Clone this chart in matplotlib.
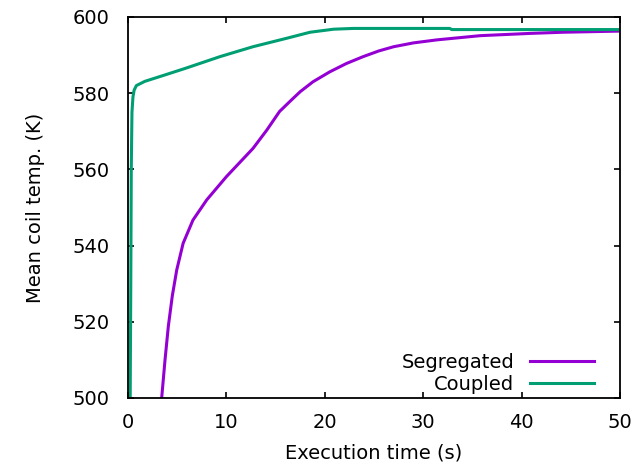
import matplotlib
matplotlib.use("Agg")
import matplotlib.pyplot as plt

seg_t = [3.42, 3.76, 4.1, 4.5, 4.95, 5.6, 6.6, 8.0, 10.0, 12.7, 14.1, 15.4, 16.6,
         17.5, 18.8, 20.5, 22.2, 23.9, 25.5, 27.0, 29.0, 31.4, 35.8, 40.9, 44.2, 50.0]
seg_T = [500, 510, 518.9, 526.8, 533.6, 540.6, 546.7, 552, 558.1, 565.5, 570.3, 575.2, 578.2,
         580.4, 583.0, 585.6, 587.8, 589.6, 591.1, 592.2, 593.2, 594.0, 595.1, 595.7, 596.0, 596.3]

cpl_t = [0.22, 0.28, 0.33, 0.4, 0.5, 0.62, 0.85, 1.7, 3.76, 5.8, 9.35, 12.7, 16.1,
         18.5, 20.9, 22.9, 32.7, 32.9, 50.0]
cpl_T = [500, 530, 560, 575.0, 579.0, 580.8, 582.0, 583.1, 584.8, 586.5, 589.6, 592.2, 594.4,
         596.0, 596.8, 597.0, 597.0, 596.7, 596.7]

x_ticks = [0, 10, 20, 30, 40, 50]
y_ticks = [500, 520, 540, 560, 580, 600]

plt.rcParams['font.family'] = ['DejaVu Sans']
fig = plt.figure(figsize=(6.44, 4.67), dpi=100)
ax = fig.add_axes([0.1988, 0.1478, 0.7639, 0.8158])

ax.plot(seg_t, seg_T, color='#9400D3', lw=2.2, label='Segregated')
ax.plot(cpl_t, cpl_T, color='#009E73', lw=2.2, label='Coupled')

ax.set_xlim(0, 50)
ax.set_ylim(500, 600)
ax.set_xticks(x_ticks)
ax.set_yticks(y_ticks)
ax.tick_params(direction='in', length=4, width=1.2, top=True, right=True,
               labelsize=14)
ax.tick_params(axis='y', pad=13)
ax.tick_params(axis='x', pad=11)
for s in ax.spines.values():
    s.set_linewidth(1.3)

ax.set_xlabel('Execution time (s)', fontsize=14, labelpad=8)
ax.set_ylabel('Mean coil temp. (K)', fontsize=14, labelpad=20)

ax.legend(loc='lower right', frameon=False, markerfirst=False, fontsize=14,
          handlelength=3.3, handletextpad=0.8, labelspacing=0.18,
          borderaxespad=0.0, bbox_to_anchor=(0.963, -0.01))

fig.savefig('out.png', dpi=100)
